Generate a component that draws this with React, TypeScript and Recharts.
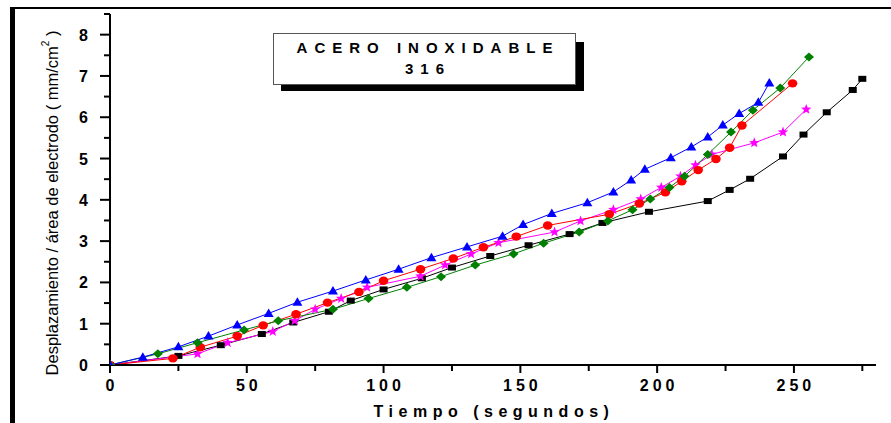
import React from 'react'
import { Line, LineChart, XAxis, YAxis } from 'recharts'

// series: time (s) and displacement / area (mm/cm2)
const blackX = [0, 25, 40.5, 55.5, 67, 80, 88, 100, 114, 125, 139, 153, 168, 180, 197, 218.5, 226.5, 234, 246, 253.5, 262, 271.5, 275]
const blackY = [0, 0.22, 0.48, 0.75, 1.03, 1.29, 1.56, 1.83, 2.1, 2.36, 2.64, 2.9, 3.17, 3.44, 3.71, 3.97, 4.24, 4.51, 5.05, 5.58, 6.12, 6.66, 6.93]

const redX = [0, 23, 33, 46.5, 56, 68, 79.5, 91, 100, 113.5, 125.5, 136.5, 148.5, 160, 182.5, 193.5, 203, 209, 215, 221.5, 226.5, 231, 249.5]
const redY = [0, 0.16, 0.43, 0.7, 0.96, 1.23, 1.51, 1.77, 2.04, 2.32, 2.58, 2.85, 3.11, 3.38, 3.65, 3.91, 4.18, 4.45, 4.72, 4.99, 5.26, 5.8, 6.82]

const blueX = [0, 12, 25, 36, 46.5, 58, 68.5, 81.5, 93.5, 105.5, 117.5, 130.5, 143.5, 151, 161.5, 174.5, 184, 190.5, 195.5, 205, 212.5, 218.5, 224, 230, 237, 241]
const blueY = [0, 0.19, 0.44, 0.7, 0.97, 1.25, 1.52, 1.79, 2.06, 2.32, 2.6, 2.86, 3.12, 3.4, 3.67, 3.93, 4.19, 4.48, 4.74, 5.02, 5.28, 5.52, 5.81, 6.09, 6.36, 6.83]

const greenX = [0, 17.5, 32, 49, 61.5, 81.5, 94.5, 108.5, 121, 133.5, 147.5, 158.5, 171.5, 182, 191, 197.5, 204.5, 210, 218.5, 227, 235, 245, 255.5]
const greenY = [0, 0.27, 0.54, 0.85, 1.07, 1.35, 1.61, 1.88, 2.14, 2.42, 2.69, 2.95, 3.22, 3.49, 3.76, 4.02, 4.3, 4.57, 5.1, 5.64, 6.17, 6.71, 7.46]

const magentaX = [0, 32, 43, 59.5, 67.5, 75, 84.5, 94, 113.5, 122.5, 132, 142, 162.5, 172, 184, 194, 201.5, 208.5, 214, 220, 235.5, 246, 254.5]
const magentaY = [0, 0.27, 0.54, 0.81, 1.07, 1.35, 1.61, 1.88, 2.15, 2.42, 2.69, 2.96, 3.22, 3.49, 3.76, 4.02, 4.3, 4.57, 4.84, 5.1, 5.38, 5.64, 6.19]

const xTicks = [0, 25, 50, 75, 100, 125, 150, 175, 200, 225, 250, 275]
const yTicks = [0, 0.5, 1, 1.5, 2, 2.5, 3, 3.5, 4, 4.5, 5, 5.5, 6, 6.5, 7, 7.5, 8, 8.5]

const toPoints = (xs: number[], ys: number[]) =>
  xs.map((x, i) => ({ x, y: ys[i] }))

const FONT = "'Liberation Sans', Arial, sans-serif"

const Square = ({ cx, cy }: any) => (
  <rect x={cx - 4} y={cy - 3} width={8} height={6} fill='#000' />
)
const Circle = ({ cx, cy }: any) => (
  <ellipse cx={cx} cy={cy} rx={4.8} ry={4.2} fill='#FF0000' />
)
const Triangle = ({ cx, cy }: any) => (
  <path
    d={`M${cx},${cy - 5} L${cx + 5},${cy + 3.5} L${cx - 5},${cy + 3.5} Z`}
    fill='#0000FF'
  />
)
const Diamond = ({ cx, cy }: any) => (
  <path
    d={`M${cx},${cy - 4.5} L${cx + 5},${cy} L${cx},${cy + 4.5} L${cx - 5},${cy} Z`}
    fill='#008000'
  />
)
const Star = ({ cx, cy }: any) => {
  const pts: string[] = []
  for (let i = 0; i < 10; i++) {
    const r = i % 2 === 0 ? 5.5 : 2.3
    const a = -Math.PI / 2 + (i * Math.PI) / 5
    pts.push(`${cx + r * Math.cos(a)},${cy + r * Math.sin(a)}`)
  }
  return <polygon points={pts.join(' ')} fill='#FF00FF' />
}

const XTick = ({ x, y, payload }: any) => {
  const major = payload.value % 50 === 0
  return (
    <g>
      <line x1={x} x2={x} y1={y} y2={y + (major ? 8 : 6)} stroke='#000' strokeWidth={2} />
      {major && (
        <text
          x={x + 2}
          y={y + 26}
          textAnchor='middle'
          fontSize={16}
          fontWeight='bold'
          letterSpacing={4}
          fontFamily={FONT}
          fill='#000'>
          {payload.value}
        </text>
      )}
    </g>
  )
}

const YTick = ({ x, y, payload }: any) => {
  const major = payload.value % 1 === 0
  return (
    <g>
      <line x1={x} x2={x - (major ? 10 : 6)} y1={y} y2={y} stroke='#000' strokeWidth={2} />
      {major && (
        <text
          x={x - 22}
          y={y + 6}
          textAnchor='end'
          fontSize={16}
          fontWeight='bold'
          fontFamily={FONT}
          fill='#000'>
          {payload.value}
        </text>
      )}
    </g>
  )
}

const YLabel = () => (
  <text
    transform='translate(58,203) rotate(-90)'
    textAnchor='middle'
    fontSize={16.5}
    fontFamily={FONT}
    fill='#000'>
    Desplazamiento / área de electrodo ( mm/cm
    <tspan dy={-9} fontSize={10}>2</tspan>
    <tspan dy={9}>  )</tspan>
  </text>
)

const XLabel = () => (
  <text
    x={494}
    y={417}
    textAnchor='middle'
    fontSize={16}
    fontWeight='bold'
    letterSpacing={5.5}
    fontFamily={FONT}
    fill='#000'>
    Tiempo (segundos)
  </text>
)

const App = () => {
  return (
    <div
      style={{
        position: 'absolute',
        left: 0,
        top: 0,
        width: 891,
        height: 423,
        overflow: 'hidden',
        background: '#fff'
      }}>
      <div
        style={{
          position: 'absolute',
          left: 10,
          top: 7,
          width: 1000,
          height: 600,
          borderLeft: '5px solid #000',
          borderTop: '2px solid #000'
        }}
      />
      <div style={{ position: 'absolute', left: 0, top: 0 }}>
        <LineChart
          width={891}
          height={423}
          margin={{ top: 14, right: 15, bottom: 0, left: 0 }}>
          <XAxis
            type='number'
            dataKey='x'
            domain={[0, 280]}
            ticks={xTicks}
            interval={0}
            tickSize={0}
            tickMargin={0}
            tickLine={false}
            tick={<XTick />}
            height={58}
            axisLine={{ stroke: '#000', strokeWidth: 2 }}
            allowDataOverflow
            label={<XLabel />}
          />
          <YAxis
            type='number'
            dataKey='y'
            domain={[0, 8.5]}
            ticks={yTicks}
            interval={0}
            tickSize={0}
            tickMargin={0}
            tickLine={false}
            tick={<YTick />}
            width={110}
            axisLine={{ stroke: '#000', strokeWidth: 2 }}
            allowDataOverflow
            label={<YLabel />}
          />
          <Line data={toPoints(blackX, blackY)} dataKey='y' stroke='#000' strokeWidth={1} dot={<Square />} isAnimationActive={false} />
          <Line data={toPoints(magentaX, magentaY)} dataKey='y' stroke='#FF00FF' strokeWidth={1} dot={<Star />} isAnimationActive={false} />
          <Line data={toPoints(redX, redY)} dataKey='y' stroke='#FF0000' strokeWidth={1} dot={<Circle />} isAnimationActive={false} />
          <Line data={toPoints(greenX, greenY)} dataKey='y' stroke='#008000' strokeWidth={1} dot={<Diamond />} isAnimationActive={false} />
          <Line data={toPoints(blueX, blueY)} dataKey='y' stroke='#0000FF' strokeWidth={1} dot={<Triangle />} isAnimationActive={false} />
        </LineChart>
      </div>
      <div
        style={{
          position: 'absolute',
          left: 281,
          top: 42,
          width: 303,
          height: 49,
          background: '#000'
        }}
      />
      <div
        style={{
          position: 'absolute',
          left: 273,
          top: 33,
          width: 301,
          height: 47,
          background: '#fff',
          border: '1px solid #555',
          fontFamily: FONT,
          fontWeight: 'bold',
          fontSize: 15,
          textAlign: 'center',
          lineHeight: '21px',
          paddingTop: 3,
          boxSizing: 'content-box'
        }}>
        <div style={{ letterSpacing: 7, marginRight: -7 }}>ACERO INOXIDABLE</div>
        <div style={{ letterSpacing: 7, marginRight: -7 }}>316</div>
      </div>
    </div>
  )
}

export default App
